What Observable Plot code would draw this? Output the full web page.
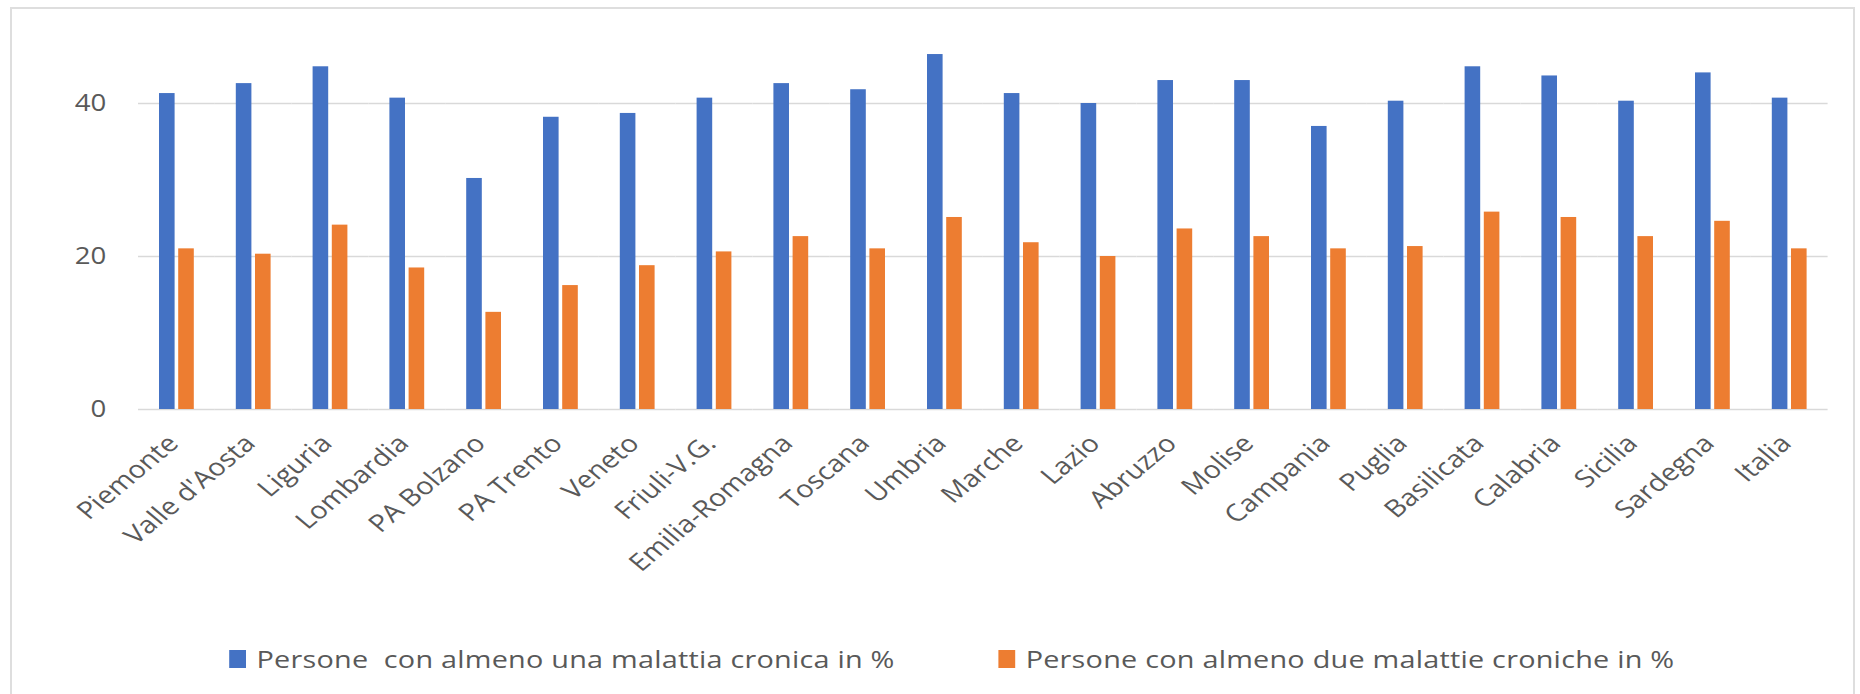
<!DOCTYPE html>
<html><head><meta charset="utf-8">
<script src="https://cdn.jsdelivr.net/npm/d3@7"></script>
<script src="https://cdn.jsdelivr.net/npm/@observablehq/plot@0.6"></script>
<style>
html,body{margin:0;padding:0;background:#fff;}
body{width:1860px;height:694px;overflow:hidden;position:relative;font-family:"Open Sans",sans-serif;}
#frame{position:absolute;left:10px;top:7px;width:1845px;height:720px;border:2px solid #dedede;box-sizing:border-box;}
#wrap{position:absolute;left:0;top:0;width:1550px;transform:scaleX(1.2);transform-origin:0 0;}
#legend{position:absolute;left:0;top:0;width:1550px;height:694px;pointer-events:none;}
.item{position:absolute;display:flex;align-items:center;font-size:24px;letter-spacing:0.2px;color:#595959;white-space:pre;line-height:28px;}
.sw{display:inline-block;width:14px;height:18px;margin-right:9px;}
</style></head><body>
<div id="frame"></div>
<div id="wrap"><div id="chart"></div><div id="legend"></div></div>
<script>
const regions = ["Piemonte","Valle d'Aosta","Liguria","Lombardia","PA Bolzano","PA Trento","Veneto","Friuli-V.G.","Emilia-Romagna","Toscana","Umbria","Marche","Lazio","Abruzzo","Molise","Campania","Puglia","Basilicata","Calabria","Sicilia","Sardegna","Italia"];
const seriesNames = ["Persone  con almeno una malattia cronica in %", "Persone con almeno due malattie croniche in %"];
const unaCronica = [41.3, 42.6, 44.8, 40.7, 30.2, 38.2, 38.7, 40.7, 42.6, 41.8, 46.4, 41.3, 40.0, 43.0, 43.0, 37.0, 40.3, 44.8, 43.6, 40.3, 44.0, 40.7];
const dueCroniche = [21.0, 20.3, 24.1, 18.5, 12.7, 16.2, 18.8, 20.6, 22.6, 21.0, 25.1, 21.8, 20.0, 23.6, 22.6, 21.0, 21.3, 25.8, 25.1, 22.6, 24.6, 21.0];
const yTicks = [0, 20, 40];
const colors = ["#4472C4", "#ED7D31"];

const data = regions.flatMap((r, i) => [
  {region: r, series: seriesNames[0], value: unaCronica[i]},
  {region: r, series: seriesNames[1], value: dueCroniche[i]}
]);

const chart = Plot.plot({
  width: 1550, height: 600,
  marginTop: 26.5, marginBottom: 191, marginLeft: 105.5, marginRight: 17.6,
  style: {fontFamily: "Open Sans", fontSize: "23px", color: "#595959", background: "transparent"},
  fx: {domain: regions, padding: 0, label: null},
  x: {domain: seriesNames, paddingInner: 0.18, paddingOuter: 0.987, axis: null},
  y: {domain: [0, 50], label: null},
  color: {domain: seriesNames, range: colors},
  marks: [
    Plot.ruleY(yTicks, {stroke: "#d9d9d9", strokeWidth: 1.4}),
    Plot.barY(data, {fx: "region", x: "series", y: "value", fill: "series"}),
    Plot.axisY({ticks: yTicks, tickSize: 0, tickPadding: 27, fontSize: 23, label: null}),
    Plot.axisFx({anchor: "bottom", tickRotate: -45, tickSize: 0, tickPadding: 30, dx: -3, fontSize: 24, label: null})
  ]
});
document.getElementById("chart").appendChild(chart);

const legend = document.getElementById("legend");
const legendPos = [190.8, 831.7];
seriesNames.forEach((s, i) => {
  const it = document.createElement("div");
  it.className = "item";
  it.style.left = legendPos[i] + "px";
  it.style.top = "645px";
  const sw = document.createElement("span");
  sw.className = "sw";
  sw.style.background = colors[i];
  it.appendChild(sw);
  const t = document.createElement("span");
  t.textContent = s;
  it.appendChild(t);
  legend.appendChild(it);
});
</script>
</body></html>
